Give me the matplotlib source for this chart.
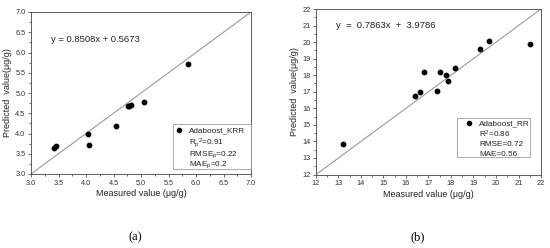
import matplotlib
matplotlib.use("Agg")
import matplotlib.pyplot as plt
from matplotlib.patches import Rectangle
from matplotlib.lines import Line2D
from matplotlib.ticker import MultipleLocator

# Panel (a): Adaboost_KRR
krr_measured = [3.42, 3.46, 4.03, 4.05, 4.55, 4.76, 4.79, 4.82, 5.05, 5.85]
krr_predicted = [3.63, 3.69, 3.98, 3.72, 4.19, 4.67, 4.69, 4.71, 4.78, 5.72]
krr_stats = ["R$_p$$^2$=0.91", "RMSE$_p$=0.22", "MAE$_p$=0.2"]
krr_eq = "y = 0.8508x + 0.5673"

# Panel (b): Adaboost_RR
rr_measured = [13.19, 16.40, 16.63, 16.78, 17.40, 17.51, 17.79, 17.88, 18.18, 19.31, 19.71, 21.51]
rr_predicted = [13.84, 16.72, 16.96, 18.18, 17.02, 18.18, 18.04, 17.64, 18.42, 19.60, 20.08, 19.90]
rr_stats = ["R$^2$=0.86", "RMSE=0.72", "MAE=0.56"]
rr_eq = "y  =  0.7863x  +  3.9786"

plt.rcParams['font.family'] = ['Liberation Sans', 'DejaVu Sans']
plt.rcParams['mathtext.fontset'] = 'custom'
plt.rcParams['mathtext.rm'] = 'Liberation Sans'
plt.rcParams['mathtext.it'] = 'Liberation Sans'

fig = plt.figure(figsize=(5.5, 2.48), dpi=100)
W, H = 550, 248
def fx(x): return x / W
def fy(y): return 1 - y / H

ax1 = fig.add_axes([fx(31), fy(174), (251 - 31) / W, (174 - 12) / H])
ax2 = fig.add_axes([fx(316), fy(174.5), (541 - 316) / W, (174.5 - 9) / H])

def setup(ax, lo, hi, major, minor, xs, ys, label, stats, eq, eqpos, box, mark_x, text_x, rows):
    ax.plot([lo, hi], [lo, hi], color='#9a9a9a', lw=0.8, zorder=1)
    ax.scatter(xs, ys, s=10, color='black', zorder=3)
    ax.set_xlim(lo, hi)
    ax.set_ylim(lo, hi)
    for axis in (ax.xaxis, ax.yaxis):
        axis.set_major_locator(MultipleLocator(major))
        axis.set_minor_locator(MultipleLocator(minor))
    ax.tick_params(which='major', direction='out', length=2.5, width=0.5, labelsize=5.3, colors='#333333', pad=1.5)
    ax.tick_params(which='minor', direction='out', length=1.5, width=0.5, colors='#333333')
    for sp in ax.spines.values():
        sp.set_linewidth(0.6)
        sp.set_color('#444444')
    ax.set_xlabel("Measured value (μg/g)", fontsize=6.5, labelpad=2, color='#222222')
    ax.set_ylabel("Predicted  value(μg/g)", fontsize=6.5, labelpad=2, color='#222222')
    ax.text(eqpos[0], eqpos[1], eq, transform=ax.transAxes, fontsize=6.8, color='#222222', va='center', ha='left')
    # legend box
    x0, y0, x1, y1 = box
    fig.add_artist(Rectangle((fx(x0), fy(y1)), (x1 - x0) / W, (y1 - y0) / H,
                             transform=fig.transFigure, fill=True, facecolor='white',
                             edgecolor='#888888', lw=0.5, zorder=5))
    fig.add_artist(Line2D([fx(mark_x)], [fy(rows[0])], marker='o', markersize=3, color='black',
                          ls='', transform=fig.transFigure, zorder=6))
    for txt, ry in zip([label] + stats, rows):
        fig.text(fx(text_x), fy(ry), txt, fontsize=5.9, color='#222222', ha='left',
                 va='center_baseline', zorder=6)

setup(ax1, 3.0, 7.0, 0.5, 0.25, krr_measured, krr_predicted, "Adaboost_KRR", krr_stats, krr_eq,
      (0.09, 0.83), (173, 124, 251, 169), 179, 189, [130, 141, 152, 163])
setup(ax2, 12, 22, 1, 0.5, rr_measured, rr_predicted, "Adaboost_RR", rr_stats, rr_eq,
      (0.09, 0.90), (457, 118, 530, 157), 469, 479, [123, 133.5, 144, 154])

fig.text(fx(135), fy(237), "(a)", fontsize=9, family='Liberation Serif', ha='center', va='center')
fig.text(fx(418), fy(237), "(b)", fontsize=9, family='Liberation Serif', ha='center', va='center')

fig.savefig("out.png", dpi=100)
